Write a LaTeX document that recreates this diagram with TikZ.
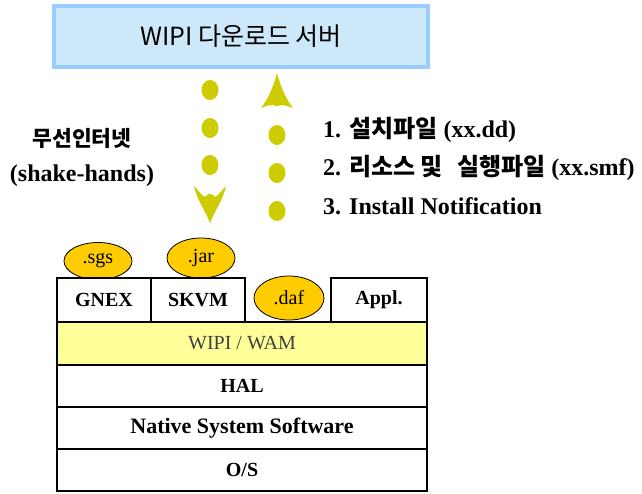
\documentclass[tikz,border=0pt]{standalone}
\usepackage{fontspec}
\setmainfont{Liberation Serif}
\newfontfamily\kr{Noto Sans CJK KR}
\usetikzlibrary{shapes.geometric}
\definecolor{dotc}{HTML}{CCCC00}
\definecolor{topfill}{HTML}{CCE8FA}
\definecolor{topborder}{HTML}{99CCFF}
\definecolor{band}{HTML}{FFFF99}
\definecolor{gold}{HTML}{FFCC00}
\definecolor{wamtext}{HTML}{404040}
\tikzset{
  ell/.style={ellipse, draw=black, line width=0.8pt, fill=gold, inner sep=0pt,
    font=\fontsize{20}{20}\selectfont},
  layer/.style={rectangle, draw=black, line width=2.5pt, fill=white, inner sep=0pt,
    font=\fontsize{20}{20}\selectfont\bfseries},
  lbl/.style={inner sep=0pt, font=\fontsize{24}{24}\selectfont\bfseries}
}
\newcommand{\K}[1]{{\kr\fontsize{24}{24}\selectfont\bfseries #1}}
\newcommand{\KL}[1]{{\kr\fontsize{21.5}{21.5}\selectfont\bfseries #1}}
\begin{document}
\begin{tikzpicture}[x=1pt,y=-1pt]
\useasboundingbox (0,0) rectangle (642,493);
\fill[white] (0,0) rectangle (642,493);

% server box
\node[draw=topborder, line width=4pt, fill=topfill, minimum width=374pt, minimum height=61pt, inner sep=0pt,
  font=\kr\fontsize{25}{25}\selectfont] (server) at (241,36.5) {WIPI 다운로드 서버};

% left dotted arrow (down)
\fill[dotc] (210,90) ellipse [x radius=8.5pt, y radius=10pt];
\fill[dotc] (210,128) ellipse [x radius=8.5pt, y radius=10pt];
\fill[dotc] (210,165) ellipse [x radius=8.5pt, y radius=10pt];
\fill[dotc] (194,186) .. controls (199,191) and (202,196) .. (205,197)
  .. controls (207,193) and (213,193) .. (215,197)
  .. controls (218,196) and (221,191) .. (226,186)
  .. controls (223,200) and (215,210) .. (210,223)
  .. controls (205,210) and (197,200) .. cycle;

% right dotted arrow (up)
\fill[dotc] (277,73) .. controls (281,88) and (286,99) .. (293,108)
  .. controls (288,106) and (283,104) .. (277,106)
  .. controls (271,104) and (266,106) .. (261,108)
  .. controls (268,99) and (273,88) .. cycle;
\fill[dotc] (277,135) ellipse [x radius=8.5pt, y radius=10pt];
\fill[dotc] (277,173) ellipse [x radius=8.5pt, y radius=10pt];
\fill[dotc] (277,211) ellipse [x radius=8.5pt, y radius=10pt];

% left label
\node[lbl] (wl1) at (82,138) {\KL{무선인터넷}};
\node[lbl] (wl2) at (82,176) {(shake-hands)};

% right labels
\node[lbl, anchor=west] (s1) at (323,130) {1. \K{설치파일} (xx.dd)};
\node[lbl, anchor=west] (s2) at (323,168) {2. \K{리소스 및\hspace{14pt}실행파일} (xx.smf)};
\node[lbl, anchor=west] (s3) at (323,206) {3. Install Notification};

% ellipses above stack
\node[ell, minimum width=68pt, minimum height=37pt] (sgs) at (98,261) {.sgs};
\node[ell, minimum width=68pt, minimum height=40pt] (jar) at (201,258) {.jar};
\node[ell, minimum width=70pt, minimum height=44pt] (daf) at (289,298) {.daf};

% stack
\node[layer, minimum width=94pt, minimum height=44pt] (gnex) at (104,300) {GNEX};
\node[layer, minimum width=94pt, minimum height=44pt] (skvm) at (198,300) {SKVM};
\node[layer, minimum width=96pt, minimum height=44pt] (appl) at (379,300) {Appl.};
\node[layer, fill=band, minimum width=370pt, minimum height=43pt,
  font=\fontsize{20}{20}\selectfont\color{wamtext}] (wam) at (242,343.5) {WIPI / WAM};
\node[layer, minimum width=370pt, minimum height=42pt] (hal) at (242,386) {HAL};
\node[layer, minimum width=370pt, minimum height=42pt, font=\fontsize{22}{22}\selectfont\bfseries] (nss) at (242,428) {Native System Software};
\node[layer, minimum width=370pt, minimum height=42pt] (os) at (242,470) {O/S};
\end{tikzpicture}
\end{document}
